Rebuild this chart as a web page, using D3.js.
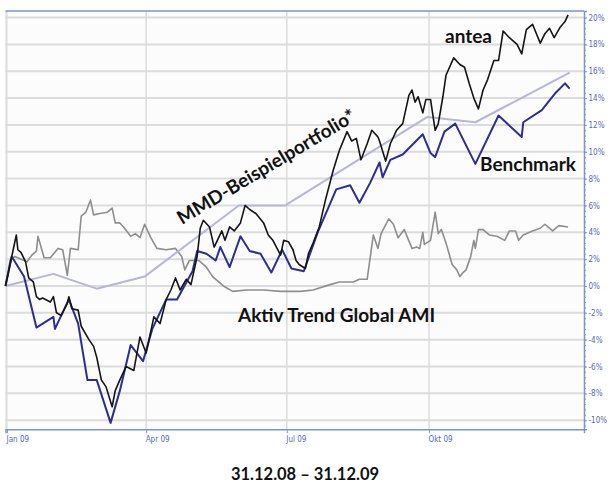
<!DOCTYPE html>
<html>
<head>
<meta charset="UTF-8" />
<title>antea 2009</title>
<script src="https://cdn.jsdelivr.net/npm/d3@7/dist/d3.min.js"></script>
<style>
    body {
        margin: 0;
        background-color: #ffffff;
    }
    svg {
        display: block;
    }
    .grid line {
        stroke: #dcdcdc;
    }
    .label {
        font-family: Lato, "Open Sans", sans-serif;
        font-weight: 700;
        fill: #111;
    }
    .axis text {
        font-family: "DejaVu Sans Condensed", "DejaVu Sans", sans-serif;
        font-size: 8px;
        fill: #5668c0;
    }
</style>
</head>
<body>
<div id="chart"></div>
<script>
// days counted from 31.12.08, values in percent
const anteaDays = [0, 7, 8, 10, 13, 15, 18, 20, 22, 24, 29, 31, 33, 36, 40, 41, 43, 47, 49, 54, 57, 59, 62, 65, 69, 71, 74, 78, 83, 87, 91, 96, 100, 104, 107, 110, 113, 117, 120, 124, 126, 128, 132, 135, 140, 142, 145, 148, 152, 155, 158, 162, 167, 170, 173, 178, 180, 183, 186, 188, 190, 194, 196, 199, 203, 207, 212, 216, 221, 224, 227, 230, 234, 237, 241, 242, 246, 249, 253, 257, 261, 263, 265, 267, 270, 272, 275, 278, 280, 283, 285, 290, 294, 297, 300, 303, 306, 309, 312, 316, 319, 322, 326, 331, 334, 337, 341, 346, 349, 352, 355, 359, 362, 364];
const anteaValues = [0, 3.8, 2.7, 2.5, 1.8, 0.6, 0.3, -0.8, -1.0, -0.9, -1.2, -0.8, -2.0, -2.2, -1.3, -0.8, -1.7, -1.8, -3.0, -4.0, -4.5, -5.3, -7.0, -7.5, -9.0, -7.8, -7.0, -6.0, -6.3, -3.8, -5.0, -2.3, -2.8, -1.0, -0.3, 0.6, -0.3, 0.5, 0.1, 2.2, 4.3, 4.9, 4.4, 2.9, 4.1, 3.4, 4.4, 4.1, 4.7, 6.0, 5.7, 5.4, 4.7, 3.8, 3.4, 2.3, 3.4, 3.3, 2.7, 1.9, 1.6, 1.3, 2.4, 3.2, 4.4, 6.4, 8.6, 10.1, 11.5, 10.8, 11.0, 9.4, 10.6, 11.6, 11.1, 10.8, 9.3, 10.6, 11.6, 12.1, 14.2, 14.6, 13.7, 14.1, 12.9, 13.9, 13.9, 11.6, 12.1, 14.1, 15.7, 17.0, 16.5, 16.3, 15.1, 14.0, 13.2, 14.6, 15.4, 16.8, 16.8, 19.0, 18.5, 18.0, 17.3, 19.1, 19.5, 18.1, 18.8, 19.2, 18.5, 19.3, 19.7, 20.2];

const benchDays = [0, 4, 12, 20, 31, 32, 41, 47, 53, 59, 68, 74, 81, 89, 95, 104, 111, 121, 124, 130, 136, 139, 145, 152, 158, 165, 172, 179, 185, 193, 202, 208, 214, 223, 229, 236, 242, 244, 249, 257, 270, 275, 278, 284, 291, 304, 319, 334, 335, 347, 356, 362, 365];
const benchValues = [0, 2.2, 0.7, -3.1, -2.3, -3.2, -1.0, -2.8, -7.0, -7.0, -10.2, -7.8, -4.4, -5.6, -3.2, -1.0, -1.0, 1.1, 2.6, 2.4, 1.9, 2.9, 1.4, 3.7, 2.6, 2.4, 1.0, 2.7, 1.3, 1.1, 4.0, 5.6, 7.2, 7.5, 6.2, 7.7, 9.2, 8.1, 9.4, 9.8, 11.3, 9.9, 9.6, 11.5, 12.1, 9.1, 12.7, 11.1, 12.2, 13.1, 14.4, 15.1, 14.7];

const mmdDays = [0, 31, 59, 90, 151, 181, 273, 304, 365];
const mmdValues = [0, 0.9, -0.2, 0.7, 6.0, 6.0, 12.6, 12.2, 15.9];

const amiDays = [0, 3, 6, 14, 17, 20, 21, 25, 29, 34, 37, 40, 42, 47, 49, 52, 55, 57, 61, 66, 69, 71, 74, 77, 81, 84, 87, 90, 94, 98, 104, 110, 114, 116, 119, 125, 130, 134, 141, 147, 156, 167, 178, 191, 199, 210, 216, 225, 229, 234, 238, 241, 243, 248, 251, 254, 258, 263, 266, 268, 270, 271, 275, 278, 280, 282, 285, 289, 292, 294, 296, 298, 301, 303, 304, 306, 309, 313, 318, 323, 326, 330, 332, 335, 341, 346, 349, 351, 354, 358, 364];
const amiValues = [0, 1.9, 2.2, 1.8, 2.3, 2.6, 3.7, 2.1, 2.1, 2.8, 2.7, 0.8, 2.8, 2.7, 5.2, 5.5, 6.4, 5.3, 5.4, 5.5, 5.8, 4.7, 4.7, 4.3, 3.7, 3.9, 3.6, 4.6, 3.6, 2.8, 2.7, 2.8, 2.2, 1.2, 1.9, 1.9, 1.4, 0.7, 0.0, -0.4, -0.3, -0.3, -0.4, -0.4, -0.3, 0.1, 0.3, 0.3, 0.5, 0.5, 3.8, 2.8, 3.9, 5.0, 4.6, 3.6, 4.2, 2.8, 2.9, 2.8, 4.0, 3.1, 3.4, 5.5, 3.9, 4.2, 3.2, 1.6, 1.2, 0.7, 1.0, 1.2, 2.2, 3.4, 2.8, 4.2, 4.2, 3.8, 3.7, 3.4, 4.1, 4.1, 3.4, 3.8, 4.1, 4.3, 4.6, 4.4, 4.1, 4.5, 4.4];

const yTicks = [-10, -8, -6, -4, -2, 0, 2, 4, 6, 8, 10, 12, 14, 16, 18, 20];
const xTickDays = [1, 91, 182, 274];
const xTickLabels = ["Jan 09", "Apr 09", "Jul 09", "Okt 09"];

const W = 608, H = 483;
const plot = { left: 5.5, right: 584, top: 11, bottom: 429.3 };
const start = new Date(2008, 11, 31);
const day = d => d3.timeDay.offset(start, d);

const x = d3.scaleTime()
    .domain([start, new Date(start.getTime() + 374.3 * 864e5)])
    .range([plot.left, plot.right]);
const y = d3.scaleLinear()
    .domain([-10.68, 20.49])
    .range([plot.bottom, plot.top]);

const svg = d3.select("#chart").append("svg")
    .attr("width", W)
    .attr("height", H);

svg.append("rect")
    .attr("x", plot.left).attr("y", plot.top)
    .attr("width", plot.right - plot.left).attr("height", plot.bottom - plot.top)
    .attr("fill", "#fcfcfc");

// grid
const grid = svg.append("g").attr("class", "grid");
grid.selectAll(".h").data(yTicks).enter().append("line")
    .attr("x1", plot.left).attr("x2", plot.right)
    .attr("y1", d => y(d)).attr("y2", d => y(d))
    .attr("stroke-width", 2);
grid.selectAll(".v").data(xTickDays.slice(1)).enter().append("line")
    .attr("x1", d => x(day(d))).attr("x2", d => x(day(d)))
    .attr("y1", plot.top).attr("y2", plot.bottom)
    .attr("stroke-width", 1.5);
grid.append("line")
    .attr("x1", plot.left + 1).attr("x2", plot.left + 1)
    .attr("y1", plot.top).attr("y2", plot.bottom)
    .attr("stroke-width", 2);

// top border
svg.append("line")
    .attr("x1", plot.left).attr("x2", plot.right)
    .attr("y1", plot.top).attr("y2", plot.top)
    .attr("stroke", "#7b95d4").attr("stroke-width", 1.5);

// series
const line = d3.line()
    .x(d => x(day(d[0])))
    .y(d => y(d[1]));

const series = [
    { days: amiDays, values: amiValues, color: "#8e8e8e", width: 1.6 },
    { days: mmdDays, values: mmdValues, color: "#b6b6dc", width: 2 },
    { days: benchDays, values: benchValues, color: "#2d2d94", width: 2 },
    { days: anteaDays, values: anteaValues, color: "#141414", width: 1.6 }
];

svg.append("g").selectAll("path")
    .data(series).enter().append("path")
    .attr("d", s => line(d3.zip(s.days, s.values)))
    .attr("fill", "none")
    .attr("stroke", s => s.color)
    .attr("stroke-width", s => s.width)
    .attr("stroke-linejoin", "round");

// right axis
const yAxis = svg.append("g")
    .attr("class", "axis")
    .attr("transform", "translate(" + plot.right + ",0)")
    .call(d3.axisRight(y).tickValues(yTicks).tickSize(3).tickPadding(1.5).tickFormat(d => d + "%"));
svg.append("g")
    .attr("transform", "translate(" + plot.right + ",0)")
    .call(d3.axisRight(y).tickValues(d3.range(-10.4, 20.4, 0.4)).tickSize(2).tickFormat(""))
    .call(g => g.select(".domain").remove())
    .selectAll("line").attr("stroke", "#7b95d4");
yAxis.select(".domain").attr("stroke", "#7b95d4").attr("stroke-width", 1.5);
yAxis.selectAll(".tick line").attr("stroke", "#7b95d4");

// bottom axis
const xAxis = svg.append("g")
    .attr("class", "axis")
    .attr("transform", "translate(0," + plot.bottom + ")")
    .call(d3.axisBottom(x).tickValues(xTickDays.map(day)).tickSize(4)
        .tickFormat((d, i) => xTickLabels[i]));
xAxis.select(".domain").attr("stroke", "#7b95d4").attr("stroke-width", 1.5);
xAxis.selectAll(".tick line").attr("stroke", "#7b95d4");
xAxis.selectAll(".tick text").attr("text-anchor", "start").attr("dx", -1).attr("y", 7);

// labels
svg.append("text").attr("class", "label")
    .attr("x", 445).attr("y", 43).attr("font-size", 19).text("antea");
svg.append("text").attr("class", "label")
    .attr("x", 480).attr("y", 171).attr("font-size", 19).text("Benchmark");
svg.append("text").attr("class", "label")
    .attr("x", 238).attr("y", 322).attr("font-size", 19).text("Aktiv Trend Global AMI");
svg.append("text").attr("class", "label")
    .attr("transform", "translate(182,225) rotate(-31)")
    .attr("font-size", 19).text("MMD-Beispielportfolio*");
svg.append("text").attr("class", "label")
    .attr("x", 305).attr("y", 480).attr("text-anchor", "middle")
    .attr("font-size", 16.5).text("31.12.08 – 31.12.09");
</script>
</body>
</html>
